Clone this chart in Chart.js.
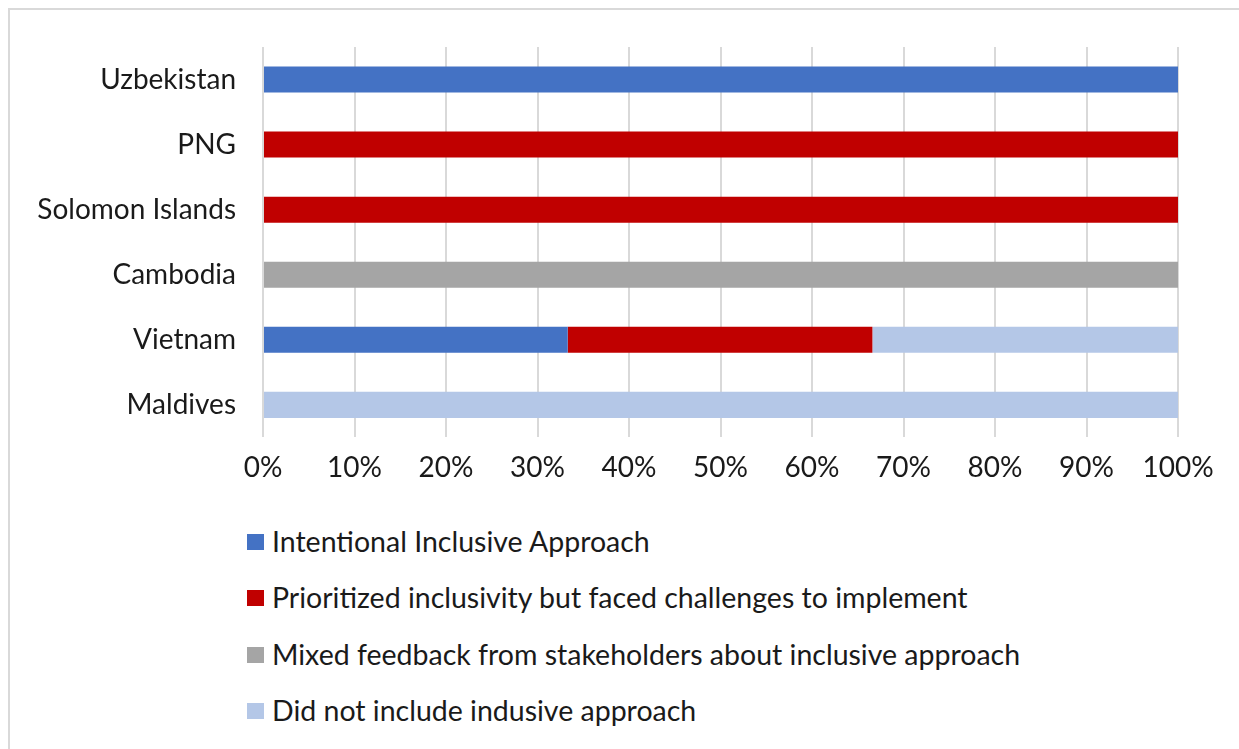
<!DOCTYPE html>
<html>
<head>
<meta charset="utf-8">
<script src="https://cdn.jsdelivr.net/npm/chart.js@4.4.0/dist/chart.umd.min.js"></script>
<style>
  html, body { margin: 0; padding: 0; background: #fff; }
  body { width: 1239px; height: 749px; position: relative; overflow: hidden; font-family: Lato, 'Open Sans', sans-serif; }
  #frame { position: absolute; left: 8px; top: 8px; width: 1260px; height: 800px; border: 2px solid #d9d9d9; box-sizing: border-box; }
  #wrap { position: absolute; left: 0; top: 0; width: 1239px; height: 514px; }
  #legend { position: absolute; left: 247px; top: 524px; margin: 0; padding: 0; list-style: none; }
  #legend li { height: 56.3px; display: flex; align-items: flex-start; font-size: 28.5px; color: #1a1a1a; line-height: 34px; white-space: nowrap; }
  #legend .box { width: 17px; height: 16px; margin: 10px 8px 0 0; flex: none; }
</style>
</head>
<body>
<div id="frame"></div>
<div id="wrap"><canvas id="c"></canvas></div>
<ul id="legend"></ul>
<script>
// ── DATA ──────────────────────────────────────────────────────────────────────
var countries = ['Uzbekistan', 'PNG', 'Solomon Islands', 'Cambodia', 'Vietnam', 'Maldives'];
var seriesNames = [
  'Intentional Inclusive Approach',
  'Prioritized inclusivity but faced challenges to implement',
  'Mixed feedback from stakeholders about inclusive approach',
  'Did not include indusive approach'
];
var intentional = [100, 0, 0, 0, 33.3, 0];
var prioritized = [0, 100, 100, 0, 33.3, 0];
var mixed       = [0, 0, 0, 100, 0, 0];
var notIncluded = [0, 0, 0, 0, 33.4, 100];
var xTicks = [0, 10, 20, 30, 40, 50, 60, 70, 80, 90, 100];

var colors = ['#4472C4', '#C00000', '#A5A5A5', '#B4C7E7'];
var seriesData = [intentional, prioritized, mixed, notIncluded];

var fontFam = "Lato, 'Open Sans', sans-serif";
var textColor = '#1a1a1a';
var gridColor = '#d9d9d9';

var datasets = seriesData.map(function(vals, i) {
  return {
    label: seriesNames[i],
    data: vals,
    backgroundColor: colors[i],
    borderWidth: 0,
    categoryPercentage: 1,
    barPercentage: 0.4
  };
});

var chart = new Chart(document.getElementById('c'), {
  type: 'bar',
  data: { labels: countries, datasets: datasets },
  options: {
    indexAxis: 'y',
    responsive: true,
    maintainAspectRatio: false,
    animation: false,
    layout: { padding: { top: 47, right: 61, bottom: 15, left: 0 } },
    plugins: {
      legend: { display: false },
      tooltip: { enabled: false }
    },
    scales: {
      x: {
        stacked: true,
        min: 0,
        max: 100,
        afterBuildTicks: function(scale) {
          scale.ticks = xTicks.map(function(v) { return { value: v }; });
        },
        ticks: {
          color: textColor,
          font: { family: fontFam, size: 28 },
          padding: 14,
          maxRotation: 0,
          callback: function(v) { return v + '%'; }
        },
        grid: { color: gridColor, lineWidth: 2, drawTicks: false },
        border: { display: false }
      },
      y: {
        stacked: true,
        afterFit: function(scale) { scale.width = 263; },
        ticks: {
          color: textColor,
          font: { family: fontFam, size: 28 },
          padding: 27
        },
        grid: { display: false, drawTicks: false },
        border: { display: false }
      }
    }
  }
});

// html legend, one entry per row
var ul = document.getElementById('legend');
chart.data.datasets.forEach(function(ds) {
  var li = document.createElement('li');
  var box = document.createElement('span');
  box.className = 'box';
  box.style.background = ds.backgroundColor;
  li.appendChild(box);
  li.appendChild(document.createTextNode(ds.label));
  ul.appendChild(li);
});
</script>
</body>
</html>
